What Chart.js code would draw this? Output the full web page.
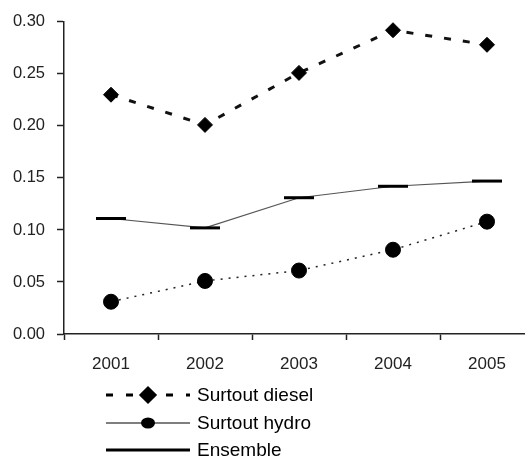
<!DOCTYPE html>
<html>
<head>
<meta charset="utf-8">
<script src="https://cdn.jsdelivr.net/npm/chart.js@4/dist/chart.umd.min.js"></script>
<style>
  html, body { margin: 0; padding: 0; background: #fff; overflow: hidden; }
  #wrap { width: 552px; height: 461px; }
</style>
</head>
<body>
<div id="wrap"><canvas id="chart" width="552" height="461"></canvas></div>
<script>
// Données
const years = ['2001', '2002', '2003', '2004', '2005'];
const surtoutDiesel = [0.230, 0.201, 0.251, 0.292, 0.278];
const surtoutHydro = [0.031, 0.051, 0.061, 0.081, 0.108];
const ensemble = [0.111, 0.102, 0.131, 0.142, 0.147];
const legendLabels = ['Surtout diesel', 'Surtout hydro', 'Ensemble'];

const xFont = { family: 'Liberation Sans', size: 17 };
const yFont = { family: 'Liberation Sans', size: 16.5 };
const legendFont = '19px "Liberation Sans"';

// Légende dessinée à la main sous le graphique
const legendPlugin = {
  id: 'customLegend',
  afterDraw(chart) {
    const ctx = chart.ctx;
    const x0 = 106, x1 = 190, xm = 148, xt = 197;
    const rows = [395, 423, 450];
    ctx.save();
    ctx.strokeStyle = '#000';
    ctx.fillStyle = '#000';

    // Surtout diesel
    ctx.lineWidth = 3;
    ctx.setLineDash([7, 13]);
    ctx.beginPath();
    ctx.moveTo(x0, rows[0]);
    ctx.lineTo(x1, rows[0]);
    ctx.stroke();
    ctx.setLineDash([]);
    Chart.helpers.drawPoint(ctx, { pointStyle: 'rectRot', radius: 7, borderWidth: 1 }, xm, rows[0]);
    ctx.fill();

    // Surtout hydro
    ctx.lineWidth = 1.2;
    ctx.beginPath();
    ctx.moveTo(x0, rows[1]);
    ctx.lineTo(x1, rows[1]);
    ctx.stroke();
    ctx.beginPath();
    ctx.ellipse(xm, rows[1], 7, 5.5, 0, 0, Math.PI * 2);
    ctx.fill();

    // Ensemble
    ctx.lineWidth = 3;
    ctx.beginPath();
    ctx.moveTo(x0, rows[2]);
    ctx.lineTo(x1, rows[2]);
    ctx.stroke();

    ctx.font = legendFont;
    ctx.textBaseline = 'middle';
    ctx.textAlign = 'left';
    legendLabels.forEach((t, i) => ctx.fillText(t, xt, rows[i] + 1));
    ctx.restore();
  }
};

new Chart(document.getElementById('chart'), {
  type: 'line',
  data: {
    labels: years,
    datasets: [
      {
        label: legendLabels[0],
        data: surtoutDiesel,
        borderColor: '#111',
        borderWidth: 3,
        borderDash: [7, 12],
        pointStyle: 'rectRot',
        pointRadius: 7.5,
        pointBackgroundColor: '#000',
        pointBorderColor: '#000',
        pointBorderWidth: 1,
        tension: 0,
        clip: false
      },
      {
        label: legendLabels[1],
        data: surtoutHydro,
        borderColor: '#222',
        borderWidth: 1.5,
        borderDash: [2, 6],
        pointStyle: 'circle',
        pointRadius: 7.5,
        pointBackgroundColor: '#000',
        pointBorderColor: '#000',
        pointBorderWidth: 1,
        tension: 0,
        clip: false
      },
      {
        label: legendLabels[2],
        data: ensemble,
        borderColor: '#555',
        borderWidth: 1.2,
        pointStyle: 'line',
        pointRadius: 15,
        pointBorderColor: '#000',
        pointBorderWidth: 3,
        tension: 0,
        clip: false
      }
    ]
  },
  options: {
    responsive: false,
    animation: false,
    devicePixelRatio: 1,
    layout: { padding: { top: 19, right: 0, bottom: 87, left: 0 } },
    plugins: {
      legend: { display: false },
      tooltip: { enabled: false }
    },
    scales: {
      x: {
        offset: true,
        grid: { offset: true, drawOnChartArea: false, tickLength: 6, tickColor: '#222', tickWidth: 1.5 },
        border: { color: '#222', width: 1.5 },
        ticks: { font: xFont, color: '#222', padding: 14, maxRotation: 0 },
        afterFit: s => { s.height = 40; }
      },
      y: {
        min: 0,
        max: 0.3,
        grid: { drawOnChartArea: false, tickLength: 7, tickColor: '#222', tickWidth: 1.5 },
        border: { color: '#222', width: 1.5 },
        ticks: {
          stepSize: 0.05,
          font: yFont,
          color: '#222',
          padding: 12,
          callback: v => v.toFixed(2)
        },
        afterFit: s => { s.width = 64; }
      }
    }
  },
  plugins: [legendPlugin]
});
</script>
</body>
</html>
